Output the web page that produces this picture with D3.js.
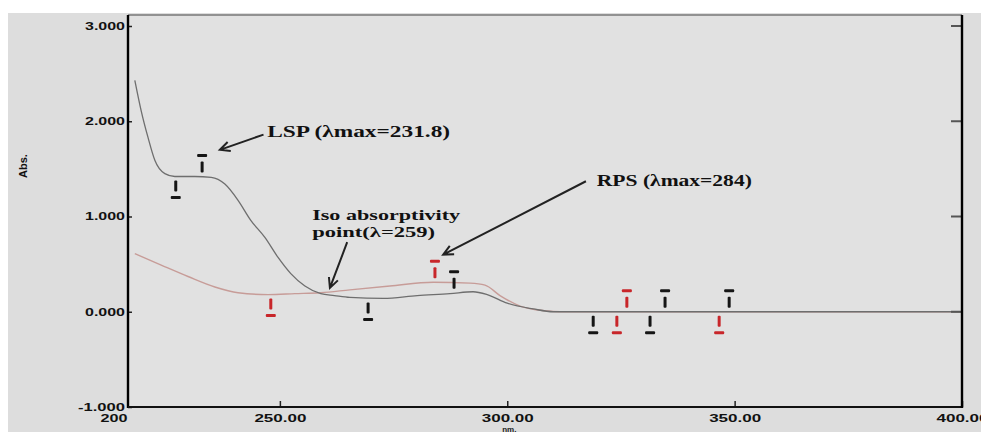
<!DOCTYPE html>
<html><head><meta charset="utf-8">
<script src="https://cdn.jsdelivr.net/npm/d3@7"></script>
<style>body{margin:0;background:#fff;} svg{display:block}</style>
</head><body><svg id="c" width="981" height="434"></svg>
<script>
// ---- data ----
const lspWavelength = [218.1,219.5,221.0,222.5,224.7,226.9,231.3,234.9,237.9,240.8,243.6,246.7,249.6,252.4,255.5,259.0,262.0,265.4,272.7,280.2,287.4,292.5,295.6,300.0,305.7,310.1,400];
const lspAbs        = [2.43,2.11,1.83,1.59,1.45,1.42,1.42,1.41,1.34,1.17,0.96,0.78,0.57,0.40,0.27,0.19,0.17,0.15,0.14,0.17,0.19,0.21,0.18,0.09,0.03,0.0,0.0];
const rpsWavelength = [218.1,223.9,229.8,235.7,240.8,247.4,253.3,259.0,265.4,274.2,283.7,291.8,295.1,298.4,302.8,308.3,311.6,400];
const rpsAbs        = [0.61,0.49,0.37,0.26,0.20,0.18,0.19,0.20,0.23,0.27,0.31,0.30,0.28,0.17,0.06,0.01,0.0,0.0];
// peak / valley pick markers
const lspMarkWl   = [227.1,232.9,269.4,288.3,318.9,331.4,334.7,348.8];
const lspMarkAbs  = [1.42,1.42,0.14,0.20,0,0,0,0];
const lspMarkKind = ["min","max","min","max","min","min","max","max"];
const rpsMarkWl   = [248.0,284.1,324.1,326.3,346.6];
const rpsMarkAbs  = [0.18,0.31,0,0,0];
const rpsMarkKind = ["min","max","min","max","min"];
const xTicks = [250,300,350,400];
const yTicks = [-1,0,1,2,3];
const xDomain = [216.6,400];
const yDomain = [-1,3];

// ---- layout ----
const svg = d3.select("#c");
const L=128, R=962, T=15, B=407;
const x = d3.scaleLinear().domain(xDomain).range([L,R]);
const y = d3.scaleLinear().domain(yDomain).range([B,26]);

svg.append("rect").attr("x",8).attr("y",13).attr("width",973).attr("height",419).attr("fill","#dddddd");
svg.append("rect").attr("x",L).attr("y",T).attr("width",R-L).attr("height",B-T).attr("fill","#e1e1e1");

// curves
const line = d3.line().x(d=>x(d[0])).y(d=>y(d[1])).curve(d3.curveMonotoneX);
svg.append("path").datum(rpsWavelength.map((w,i)=>[w,rpsAbs[i]]))
  .attr("d",line).attr("fill","none").attr("stroke","#c79c98").attr("stroke-width",1.4);
svg.append("path").datum(lspWavelength.map((w,i)=>[w,lspAbs[i]]))
  .attr("d",line).attr("fill","none").attr("stroke","#6e6e6e").attr("stroke-width",1.3);

// markers
function drawMarks(wl,ab,kind,color){
  const g = svg.append("g").attr("fill",color);
  wl.forEach((w,i)=>{
    const cx=x(w), cy=y(ab[i]), s = kind[i]==="max"?-1:1;
    const y1 = cy + s*4, y2 = cy + s*15;
    g.append("rect").attr("x",cx-1.5).attr("y",Math.min(y1,y2)).attr("width",3).attr("height",Math.abs(y2-y1)).attr("rx",1);
    g.append("rect").attr("x",cx-5).attr("y",cy + s*21 -1.5).attr("width",10).attr("height",3).attr("rx",1);
  });
}
drawMarks(rpsMarkWl,rpsMarkAbs,rpsMarkKind,"#c8262a");
drawMarks(lspMarkWl,lspMarkAbs,lspMarkKind,"#151515");

// axes
const fmtY = d=> (d<0?"-":"")+d3.format(".3f")(Math.abs(d));
const ya = svg.append("g").attr("transform",`translate(${L},0)`)
  .call(d3.axisLeft(y).tickValues(yTicks).tickFormat(fmtY).tickSizeInner(-4).tickSizeOuter(0).tickPadding(3));
ya.select(".domain").remove();
ya.selectAll("line").attr("stroke","#222").attr("stroke-width",1.5);
ya.selectAll("text").attr("font-family","Liberation Sans, Arial, sans-serif").attr("font-weight","bold").attr("font-size",10.5)
  .attr("fill","#111").each(function(d){ d3.select(this).attr("textLength", d<0?47:40).attr("lengthAdjust","spacingAndGlyphs"); });

const xa = svg.append("g").attr("transform",`translate(0,${B})`)
  .call(d3.axisBottom(x).tickValues(xTicks).tickFormat(d3.format(".2f")).tickSizeInner(-6).tickSizeOuter(0).tickPadding(8));
xa.select(".domain").remove();
xa.selectAll("line").attr("stroke","#222").attr("stroke-width",1.5);
xa.selectAll("text").attr("font-family","Liberation Sans, Arial, sans-serif").attr("font-weight","bold").attr("font-size",10.5)
  .attr("fill","#111").attr("textLength",52).attr("lengthAdjust","spacingAndGlyphs");

// right axis ticks
svg.append("g").selectAll("line").data(yTicks.filter(d=>d>=0)).join("line")
  .attr("x1",R-11).attr("x2",R).attr("y1",d=>y(d)).attr("y2",d=>y(d)).attr("stroke","#555").attr("stroke-width",2);

// frame
svg.append("line").attr("x1",L).attr("x2",R).attr("y1",T).attr("y2",T).attr("stroke","#444").attr("stroke-width",1);
svg.append("line").attr("x1",L).attr("x2",L).attr("y1",T).attr("y2",B+1).attr("stroke","#000").attr("stroke-width",2.4);
svg.append("line").attr("x1",L).attr("x2",R+1).attr("y1",B).attr("y2",B).attr("stroke","#111").attr("stroke-width",2.2);
svg.append("line").attr("x1",R).attr("x2",R).attr("y1",T).attr("y2",B+1).attr("stroke","#000").attr("stroke-width",2.4);

// corner "200" label and axis titles
svg.append("text").attr("x",x(xDomain[0])-14).attr("y",B+15).attr("text-anchor","middle")
  .attr("font-family","Liberation Sans, Arial, sans-serif").attr("font-weight","bold").attr("font-size",10.5).attr("fill","#111")
  .attr("textLength",27).attr("lengthAdjust","spacingAndGlyphs").text("200");
svg.append("text").attr("x",x(300)+2).attr("y",B+25).attr("text-anchor","middle")
  .attr("font-family","Liberation Sans, Arial, sans-serif").attr("font-weight","bold").attr("font-size",8).attr("fill","#222").text("nm.");
svg.append("text").attr("transform","translate(27,166) rotate(-90)").attr("text-anchor","middle")
  .attr("font-family","Liberation Sans, Arial, sans-serif").attr("font-weight","bold").attr("font-size",11).attr("fill","#111").text("Abs.");

// annotations
const annFont = "Liberation Serif, Times New Roman, serif";
function label(w,a,str,len,size){
  svg.append("text").attr("x",x(w)).attr("y",y(a)).attr("font-family",annFont).attr("font-weight","bold")
    .attr("font-size",size).attr("fill","#111").attr("textLength",len).attr("lengthAdjust","spacingAndGlyphs").text(str);
}
function arrow(w1,a1,w2,a2){
  const x1=x(w1),y1=y(a1),x2=x(w2),y2=y(a2);
  const ang=Math.atan2(y1-y2,x1-x2), h=11, sp=0.45;
  const p = `M${x1},${y1}L${x2},${y2}M${x2+h*Math.cos(ang+sp)},${y2+h*Math.sin(ang+sp)}L${x2},${y2}L${x2+h*Math.cos(ang-sp)},${y2+h*Math.sin(ang-sp)}`;
  svg.append("path").attr("d",p).attr("fill","none").attr("stroke","#222").attr("stroke-width",2);
}
label(247.2,1.83,"LSP (λmax=231.8)",183,16);
arrow(246.4,1.86,236.8,1.70);
label(319.7,1.32,"RPS (λmax=284)",155,16);
arrow(317.3,1.37,285.9,0.60);
label(257.1,0.96,"Iso absorptivity",148,15);
label(257.1,0.785,"point(λ=259)",123,15);
arrow(264.8,0.73,261.0,0.25);
</script></body></html>
